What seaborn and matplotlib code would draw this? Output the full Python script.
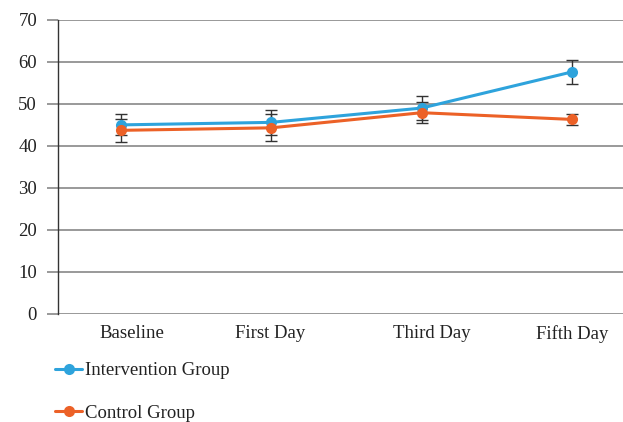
import pandas as pd
import numpy as np
import matplotlib.pyplot as plt
import seaborn as sns

# values
days = ["Baseline", "First Day", "Third Day", "Fifth Day"]
intervention = [45.0, 45.6, 49.0, 57.6]
intervention_err = [2.5, 3.0, 2.8, 2.8]
control = [43.7, 44.3, 47.9, 46.3]
control_err = [2.8, 3.2, 2.5, 1.3]

blue = "#2ea3dc"
orange = "#ec6127"

df = pd.DataFrame({
    "Day": days * 2,
    "Score": intervention + control,
    "Group": ["Intervention Group"] * 4 + ["Control Group"] * 4,
})

sns.set_style("white")
plt.rcParams['font.family'] = ['Liberation Serif', 'DejaVu Serif']

fig = plt.figure(figsize=(6.23, 4.22), dpi=100)
ax = fig.add_axes([0.093, 0.256, 0.907, 0.697])

sns.lineplot(data=df, x="Day", y="Score", hue="Group",
             palette=[blue, orange], marker="o", markersize=8,
             markeredgewidth=0, linewidth=2.2, ax=ax, zorder=3)

# error bars (behind the markers)
pos = np.arange(len(days))
ax.errorbar(pos, intervention, yerr=intervention_err, fmt="none",
            ecolor="#333333", elinewidth=1, capsize=4, capthick=1, zorder=2.5)
ax.errorbar(pos, control, yerr=control_err, fmt="none",
            ecolor="#333333", elinewidth=1, capsize=4, capthick=1, zorder=2.5)

ax.set_ylim(0, 70)
ax.set_yticks(range(0, 71, 10))
ax.set_xlim(-0.42, 3.34)
# labels sit a little off the points in the original
ax.set_xticks([0.07, 0.99, 2.07, 3.0])
ax.set_xticklabels(days)
ax.set_xlabel("")
ax.set_ylabel("")

# gridlines
ax.grid(axis="y", color="#888888", linewidth=1.2)
ax.grid(axis="x", visible=False)
ax.set_axisbelow(True)
for s in ["top", "right", "bottom"]:
    ax.spines[s].set_visible(False)
ax.spines["left"].set_color("#333333")
ax.spines["left"].set_linewidth(1)
ax.tick_params(axis="y", length=8, width=1.2, color="#888888", pad=7,
               labelsize=13.5, labelcolor="#222222", left=True)
ax.tick_params(axis="x", length=0, pad=8, labelsize=13.5, labelcolor="#222222")

ax.get_legend().remove()
handles, labels = ax.get_legend_handles_labels()
fig.legend(handles, labels, loc="upper left", bbox_to_anchor=(0.077, 0.16),
           frameon=False, fontsize=13.5, handlelength=1.4, handletextpad=0.2,
           labelspacing=1.35, borderaxespad=0, labelcolor="#222222")

fig.savefig("out.png", dpi=100)
